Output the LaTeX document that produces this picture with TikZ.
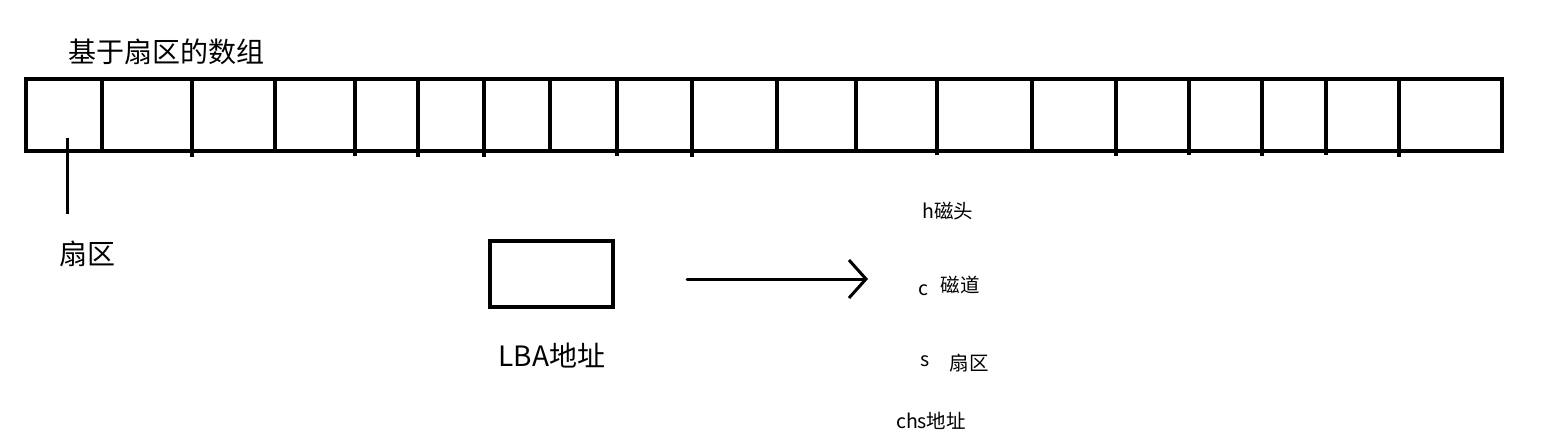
\documentclass[tikz,border=0pt]{standalone}
\usepackage{fontspec}
\setmainfont{Noto Sans CJK SC}
\usetikzlibrary{arrows.meta}
\tikzset{
  heavy/.style={line width=3pt, line cap=round},
  bigtext/.style={inner sep=0pt, font=\fontsize{28}{31}\selectfont},
  smalltext/.style={inner sep=0pt, font=\fontsize{19.5}{22}\selectfont},
}
\begin{document}
\begin{tikzpicture}[x=1pt,y=-1pt]
\useasboundingbox (0,0) rectangle (1564,440);
% array
\draw[line width=3.2pt] (26,79) rectangle (1502,151);
\foreach \x/\e in {102/151,192/157,275/153,355/156,418/157,484/157,550/151,617/156,692/157,777/151,856/153,937/155,1032/151,1116/156,1189/155,1262/156,1326/155,1399/157}{
  \draw[line width=3.2pt] (\x,79) -- (\x,\e);
}
\node[bigtext] (title) at (166,52) {基于扇区的数组};
% sector pointer
\coordinate (p1) at (67,138);
\coordinate (p2) at (67,214);
\draw[line width=3pt] (p1) -- (p2);
\node[bigtext] (sec) at (87,254) {扇区};
% LBA box
\node[draw, line width=3.2pt, minimum width=123pt, minimum height=66pt, inner sep=0pt] (lba) at (551.5,274) {};
\node[bigtext] (lbal) at (552,356) {LBA地址};
% arrow
\coordinate (a1) at (687,279);
\coordinate (a2) at (868,279);
\draw[heavy, -{Straight Barb[length=17pt,width=38pt,line width=3pt]}] (a1) -- (a2);
% chs
\node[smalltext] (h) at (948,211) {h磁头};
\node[smalltext] (c) at (923,290) {c};
\node[smalltext] (cd) at (960,285) {磁道};
\node[smalltext] (s) at (925,361) {s};
\node[smalltext] (sd) at (969,363) {扇区};
\node[smalltext] (chs) at (931,421) {chs地址};
\end{tikzpicture}
\end{document}
